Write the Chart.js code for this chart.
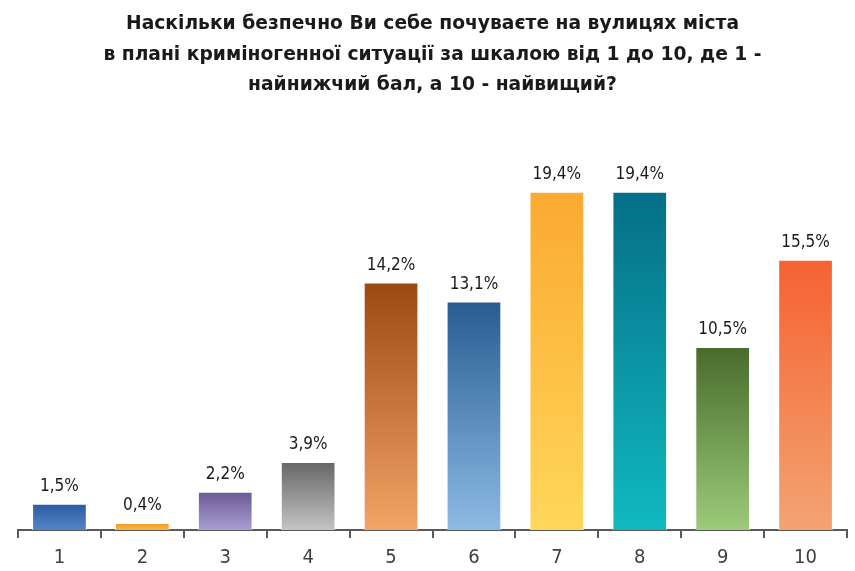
<!DOCTYPE html>
<html>
<head>
<meta charset="utf-8">
<script src="https://cdn.jsdelivr.net/npm/chart.js@4/dist/chart.umd.min.js"></script>
<style>
  html, body { margin: 0; padding: 0; background: #fff; }
  #wrap { width: 855px; height: 571px; }
</style>
</head>
<body>
<div id="wrap"><canvas id="chart" width="855" height="571"></canvas></div>
<script>
// Data
const titleLines = [
    'Наскільки безпечно Ви себе почуваєте на вулицях міста',
    'в плані криміногенної ситуації за шкалою від 1 до 10, де 1 -',
    'найнижчий бал, а 10 - найвищий?'
];
const scores = ['1', '2', '3', '4', '5', '6', '7', '8', '9', '10'];
const shares = [1.5, 0.4, 2.2, 3.9, 14.2, 13.1, 19.4, 19.4, 10.5, 15.5];

// gradient colours per bar: top -> bottom
const topColors = ['#2c5aa3', '#f59a2a', '#6b5896', '#666666', '#9c4812', '#285c92', '#fba931', '#056f87', '#486b2c', '#f66232'];
const bottomColors = ['#5585c8', '#fbb444', '#a79fd2', '#c4c4c4', '#f2a468', '#8cbbe4', '#ffd75a', '#10b9c0', '#9ccb7a', '#f2a472'];

const FONT = "'DejaVu Sans', sans-serif";
const FONT_NARROW = "'DejaVu Sans Condensed', 'DejaVu Sans', sans-serif";

function barGradient(context) {
    const i = context.dataIndex;
    const chart = context.chart;
    if (!chart.chartArea || !chart.scales.y) {
        return topColors[i];
    }
    const yScale = chart.scales.y;
    const top = yScale.getPixelForValue(shares[i]);
    const bottom = yScale.getPixelForValue(0);
    const grad = chart.ctx.createLinearGradient(0, top, 0, bottom);
    grad.addColorStop(0, topColors[i]);
    grad.addColorStop(1, bottomColors[i]);
    return grad;
}

// value labels above bars, "1,5%" style
const valueLabels = {
    id: 'valueLabels',
    afterDatasetsDraw(chart) {
        const ctx = chart.ctx;
        const meta = chart.getDatasetMeta(0);
        ctx.save();
        ctx.font = '17px ' + FONT_NARROW;
        ctx.fillStyle = '#1a1a1a';
        ctx.textAlign = 'center';
        ctx.textBaseline = 'middle';
        meta.data.forEach((bar, i) => {
            const txt = shares[i].toFixed(1).replace('.', ',') + '%';
            ctx.fillText(txt, bar.x, bar.y - 17);
        });
        ctx.restore();
    }
};

new Chart(document.getElementById('chart'), {
    type: 'bar',
    data: {
        labels: scores,
        datasets: [{
            data: shares,
            backgroundColor: barGradient,
            borderColor: 'rgba(255,255,255,0.7)',
            borderWidth: 1,
            barPercentage: 0.66,
            categoryPercentage: 1
        }]
    },
    options: {
        responsive: false,
        animation: false,
        layout: {
            padding: { left: 18, right: 8, top: 0, bottom: -7 }
        },
        plugins: {
            legend: { display: false },
            tooltip: { enabled: false },
            title: {
                display: true,
                text: titleLines,
                color: '#1a1a1a',
                font: { family: FONT, size: 18.7, weight: 'bold', lineHeight: 1.63 },
                padding: { top: 9, bottom: 46 }
            }
        },
        scales: {
            x: {
                grid: {
                    display: true,
                    drawOnChartArea: false,
                    drawTicks: true,
                    tickLength: 8,
                    color: '#5a5a5a',
                    lineWidth: 2
                },
                border: { display: true, color: '#5a5a5a', width: 2 },
                ticks: {
                    color: '#404040',
                    padding: 8,
                    font: { family: FONT_NARROW, size: 20 }
                }
            },
            y: {
                display: false,
                min: 0,
                max: 22
            }
        }
    },
    plugins: [valueLabels]
});
</script>
</body>
</html>
